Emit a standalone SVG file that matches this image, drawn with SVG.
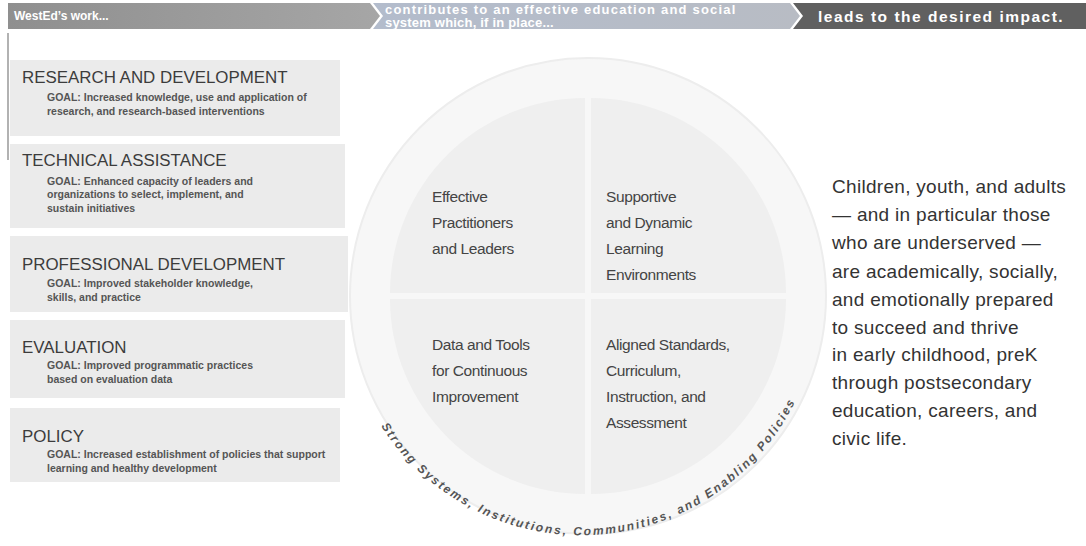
<svg xmlns="http://www.w3.org/2000/svg" width="1086" height="546" viewBox="0 0 1086 546">
<defs>
<style>
.hd{font-family:"Liberation Sans",Arial,sans-serif;font-weight:bold;fill:#ffffff}
.cat{font-family:"Liberation Sans",Arial,sans-serif;font-size:16.9px;fill:#3c3c3c}
.goal{font-family:"Liberation Sans",Arial,sans-serif;font-size:10.5px;font-weight:bold;fill:#555555}
.q{font-family:"Liberation Sans",Arial,sans-serif;font-size:15.5px;fill:#444444;letter-spacing:-0.4px}
.imp{font-family:"Liberation Sans",Arial,sans-serif;font-size:19px;fill:#333333;letter-spacing:0.3px}
.arc{font-family:"Liberation Sans",Arial,sans-serif;font-size:12px;font-weight:bold;font-style:italic;fill:#555555;letter-spacing:2px}
.box{fill:#ebebeb}
</style>
<linearGradient id="g1" x1="0" y1="0" x2="1" y2="0"><stop offset="0" stop-color="#8f8f8f"/><stop offset="1" stop-color="#a6a6a6"/></linearGradient>
<linearGradient id="g2" x1="0" y1="0" x2="1" y2="0"><stop offset="0" stop-color="#b3bccc"/><stop offset="1" stop-color="#b8bcc4"/></linearGradient>
<path id="arcpath" d="M 381 426 A 238 238 0 0 0 802 386"/>
</defs>
<rect width="1086" height="546" fill="#ffffff"/>

<g id="header">
<polygon points="8,3 370,3 380,16 370,29 8,29" fill="url(#g1)"/>
<polygon points="373,3 790,3 800,16 790,29 373,29 383,16" fill="url(#g2)"/>
<polygon points="793,3 1086,3 1086,29 793,29 803,16" fill="#606060"/>
<text class="hd" x="14" y="20" style="font-size:12px">WestEd’s work...</text>
<text class="hd" x="385" y="14" style="font-size:13px;letter-spacing:1.2px">contributes to an effective education and social</text>
<text class="hd" x="385" y="27" style="font-size:13px;letter-spacing:0.2px">system which, if in place...</text>
<text class="hd" x="818" y="22" style="font-size:15.5px;letter-spacing:1.5px">leads to the desired impact.</text>
</g>

<line x1="8" y1="33" x2="8" y2="160" stroke="#999" stroke-width="1.5"/>

<g id="circle">
<circle cx="588" cy="296" r="238" fill="#f7f7f7" stroke="#ededed" stroke-width="2"/>
<path d="M 585 293 L 585 98 A 195 195 0 0 0 390 293 Z" fill="#efefef"/>
<path d="M 591 293 L 786 293 A 195 195 0 0 0 591 98 Z" fill="#efefef"/>
<path d="M 585 299 L 390 299 A 195 195 0 0 0 585 494 Z" fill="#efefef"/>
<path d="M 591 299 L 591 494 A 195 195 0 0 0 786 299 Z" fill="#efefef"/>
<text class="arc"><textPath href="#arcpath" startOffset="0">Strong Systems, Institutions, Communities, and Enabling Policies</textPath></text>
</g>

<g id="rd">
<rect class="box" x="10" y="60" width="330" height="76"/>
<text class="cat" x="22" y="83">RESEARCH AND DEVELOPMENT</text>
<text class="goal" x="47" y="101">GOAL: Increased knowledge, use and application of</text>
<text class="goal" x="47" y="115">research, and research-based interventions</text>
</g>
<g id="ta">
<rect class="box" x="10" y="144" width="335" height="84"/>
<text class="cat" x="22" y="166">TECHNICAL ASSISTANCE</text>
<text class="goal" x="47" y="185">GOAL: Enhanced capacity of leaders and</text>
<text class="goal" x="47" y="198">organizations to select, implement, and</text>
<text class="goal" x="47" y="212">sustain initiatives</text>
</g>
<g id="pd">
<rect class="box" x="10" y="236" width="338" height="76"/>
<text class="cat" x="22" y="270">PROFESSIONAL DEVELOPMENT</text>
<text class="goal" x="47" y="287">GOAL: Improved stakeholder knowledge,</text>
<text class="goal" x="47" y="301">skills, and practice</text>
</g>
<g id="ev">
<rect class="box" x="10" y="320" width="335" height="78"/>
<text class="cat" x="22" y="353">EVALUATION</text>
<text class="goal" x="47" y="369">GOAL: Improved programmatic practices</text>
<text class="goal" x="47" y="383">based on evaluation data</text>
</g>
<g id="po">
<rect class="box" x="10" y="408" width="330" height="74"/>
<text class="cat" x="22" y="442">POLICY</text>
<text class="goal" x="47" y="458">GOAL: Increased establishment of policies that support</text>
<text class="goal" x="47" y="472">learning and healthy development</text>
</g>

<g id="q1">
<text class="q" x="432" y="202">Effective</text>
<text class="q" x="432" y="228">Practitioners</text>
<text class="q" x="432" y="254">and Leaders</text>
</g>
<g id="q2">
<text class="q" x="606" y="202">Supportive</text>
<text class="q" x="606" y="228">and Dynamic</text>
<text class="q" x="606" y="254">Learning</text>
<text class="q" x="606" y="280">Environments</text>
</g>
<g id="q3">
<text class="q" x="432" y="350">Data and Tools</text>
<text class="q" x="432" y="376">for Continuous</text>
<text class="q" x="432" y="402">Improvement</text>
</g>
<g id="q4">
<text class="q" x="606" y="350">Aligned Standards,</text>
<text class="q" x="606" y="376">Curriculum,</text>
<text class="q" x="606" y="402">Instruction, and</text>
<text class="q" x="606" y="428">Assessment</text>
</g>

<g id="impact">
<text class="imp" x="832" y="193">Children, youth, and adults</text>
<text class="imp" x="832" y="221">— and in particular those</text>
<text class="imp" x="832" y="249">who are underserved —</text>
<text class="imp" x="832" y="278">are academically, socially,</text>
<text class="imp" x="832" y="306">and emotionally prepared</text>
<text class="imp" x="832" y="334">to succeed and thrive</text>
<text class="imp" x="832" y="361">in early childhood, preK</text>
<text class="imp" x="832" y="389">through postsecondary</text>
<text class="imp" x="832" y="417">education, careers, and</text>
<text class="imp" x="832" y="445">civic life.</text>
</g>
</svg>
